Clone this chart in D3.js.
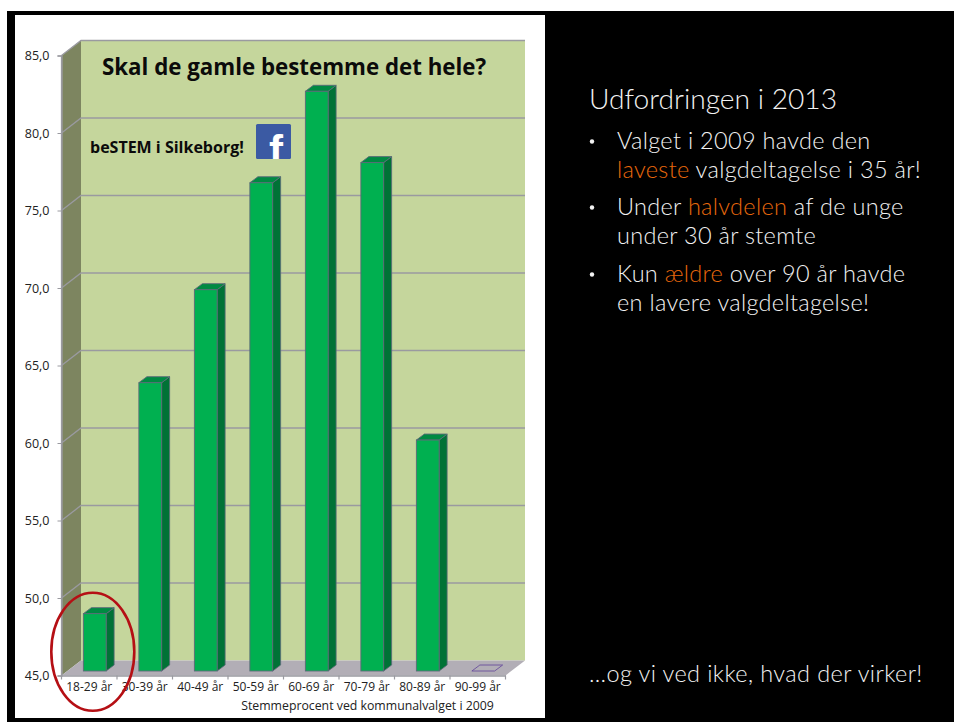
<!DOCTYPE html>
<html>
<head>
<meta charset="utf-8">
<script src="https://cdn.jsdelivr.net/npm/d3@7"></script>
<style>
  html, body { margin: 0; padding: 0; background: #fff; }
  svg { display: block; }
  .cap { font-family: "Open Sans", sans-serif; }
  .slide { font-family: Lato, sans-serif; font-weight: 300; }
</style>
</head>
<body>
<div id="chart"></div>
<script>
const ageGroups = ['18-29 år', '30-39 år', '40-49 år', '50-59 år', '60-69 år', '70-79 år', '80-89 år', '90-99 år'];
const turnout = [48.7, 63.6, 69.6, 76.5, 82.4, 77.8, 59.9, 45];
const yTicks = [45, 50, 55, 60, 65, 70, 75, 80, 85];
const chartTitle = 'Skal de gamle bestemme det hele?';
const chartSubtitle = 'beSTEM i Silkeborg!';
const axisTitle = 'Stemmeprocent ved kommunalvalget i 2009';
const slideHeading = 'Udfordringen i 2013';
const bulletLines = [
    [[['Valget i 2009 havde den', false]], [['laveste', true], [' valgdeltagelse i 35 år!', false]]],
    [[['Under ', false], ['halvdelen', true], [' af de unge', false]], [['under 30 år stemte', false]]],
    [[['Kun ', false], ['ældre', true], [' over 90 år havde', false]], [['en lavere valgdeltagelse!', false]]]
];
const slideFooter = '…og vi ved ikke, hvad der virker!';

const width = 954, height = 722;
const box = { left: 61.5, right: 505.5, top: 55.5, bottom: 675.5 };
const wall = { dx: 19.5, dy: -15 };   // depth of the 3d box
const bar = { dx: 8, dy: -6, lift: -4.5, shift: 5.5 };

const svg = d3.select('#chart').append('svg').attr('width', width).attr('height', height);

// slide background with the white chart panel on it
svg.append('rect').attr('x', 7).attr('y', 11).attr('width', width - 7).attr('height', height - 11).attr('fill', '#000');
svg.append('rect').attr('x', 15).attr('y', 15).attr('width', 530).attr('height', 703).attr('fill', '#fff');

const x = d3.scaleBand().domain(ageGroups).range([box.left, box.right]).paddingInner(0.59).paddingOuter(0.295);
const y = d3.scaleLinear().domain([45, 85]).range([box.bottom, box.top]);
const barX = group => x(group) + bar.shift;

const plot = svg.append('g');
const poly = pts => pts.map(p => p.join(',')).join(' ');
const edge = '#9a9aa0';

// back wall, side wall, floor
plot.append('polygon')
    .attr('points', poly([[box.left + wall.dx, y(85) + wall.dy], [box.right + wall.dx, y(85) + wall.dy], [box.right + wall.dx, y(45) + wall.dy], [box.left + wall.dx, y(45) + wall.dy]]))
    .attr('fill', '#c5d69c');
plot.append('polygon')
    .attr('points', poly([[box.left, y(85)], [box.left + wall.dx, y(85) + wall.dy], [box.left + wall.dx, y(45) + wall.dy], [box.left, y(45)]]))
    .attr('fill', '#7d8560');
plot.append('polygon')
    .attr('points', poly([[box.left, y(45)], [box.left + wall.dx, y(45) + wall.dy], [box.right + wall.dx, y(45) + wall.dy], [box.right, y(45)]]))
    .attr('fill', '#b2aeb6');

// gridlines run along the side wall and then the back wall
plot.selectAll('polyline.grid')
    .data(yTicks.filter(d => d > 45))
    .join('polyline')
    .attr('class', 'grid')
    .attr('points', d => poly([[box.left, y(d)], [box.left + wall.dx, y(d) + wall.dy], [box.right + wall.dx, y(d) + wall.dy]]))
    .attr('fill', 'none')
    .attr('stroke', edge)
    .attr('stroke-width', 1.3);
plot.append('line')
    .attr('x1', box.left).attr('x2', box.left)
    .attr('y1', y(85)).attr('y2', y(45))
    .attr('stroke', edge).attr('stroke-width', 1.3);

// bars, front face sits a bit behind the axis plane
const bars = plot.selectAll('g.bar')
    .data(ageGroups.map((group, i) => ({ group, value: turnout[i] })))
    .join('g')
    .attr('class', 'bar');

const barEdge = '#5b6a78';
bars.filter(d => d.value > 45).append('polygon')
    .attr('points', d => {
        const r = barX(d.group) + x.bandwidth();
        const t = y(d.value) + bar.lift, b = y(45) + bar.lift;
        return poly([[r, t], [r + bar.dx, t + bar.dy], [r + bar.dx, b + bar.dy], [r, b]]);
    })
    .attr('fill', '#007236').attr('stroke', barEdge).attr('stroke-width', 0.8);
bars.append('polygon')
    .attr('points', d => {
        const l = barX(d.group), r = l + x.bandwidth();
        const t = y(d.value) + bar.lift;
        return poly([[l, t], [l + bar.dx, t + bar.dy], [r + bar.dx, t + bar.dy], [r, t]]);
    })
    .attr('fill', d => d.value > 45 ? '#008a42' : 'none')
    .attr('stroke', d => d.value > 45 ? barEdge : '#6a4f9c')
    .attr('stroke-width', 0.9);
bars.filter(d => d.value > 45).append('rect')
    .attr('x', d => barX(d.group))
    .attr('y', d => y(d.value) + bar.lift)
    .attr('width', x.bandwidth())
    .attr('height', d => y(45) - y(d.value))
    .attr('fill', '#00b050').attr('stroke', barEdge).attr('stroke-width', 0.9);

// axes
const yAxis = svg.append('g')
    .attr('transform', 'translate(' + box.left + ',0)')
    .call(d3.axisLeft(y).tickValues(yTicks).tickSize(4).tickPadding(8).tickFormat(d => d3.format('.1f')(d).replace('.', ',')));
const xAxis = svg.append('g')
    .attr('transform', 'translate(0,' + box.bottom + ')')
    .call(d3.axisBottom(x).tickSize(0).tickPadding(7));
xAxis.selectAll('.tick')
    .append('line')
    .attr('x1', x.step() / 2).attr('x2', x.step() / 2)
    .attr('y1', 0).attr('y2', 4)
    .attr('stroke', edge).attr('stroke-width', 1.2);
xAxis.append('line')
    .attr('x1', box.left).attr('x2', box.left)
    .attr('y1', 0).attr('y2', 4)
    .attr('stroke', edge).attr('stroke-width', 1.2);
[yAxis, xAxis].forEach(axis => {
    axis.selectAll('.domain').attr('stroke', edge).attr('stroke-width', 1.3);
    axis.selectAll('.tick > line').attr('stroke', edge);
    axis.selectAll('text')
        .attr('class', 'cap')
        .attr('fill', '#222');
});
yAxis.selectAll('text').attr('font-size', 12.5);
xAxis.selectAll('text').attr('font-size', 12);

svg.append('text').attr('class', 'cap')
    .attr('x', 367.5).attr('y', 710)
    .attr('text-anchor', 'middle').attr('font-size', 12.3).attr('fill', '#222')
    .text(axisTitle);

svg.append('text').attr('class', 'cap')
    .attr('x', 102).attr('y', 75)
    .attr('font-size', 22.3).attr('font-weight', 700).attr('fill', '#0b0b0b')
    .text(chartTitle);
svg.append('text').attr('class', 'cap')
    .attr('x', 90).attr('y', 153)
    .attr('font-size', 16).attr('font-weight', 700).attr('fill', '#0b0b0b')
    .text(chartSubtitle);

// facebook badge
svg.append('rect')
    .attr('x', 256).attr('y', 124).attr('width', 35).attr('height', 35).attr('rx', 1.5)
    .attr('fill', '#3b5aa3');
svg.append('clipPath').attr('id', 'fb-clip').append('rect')
    .attr('x', 256).attr('y', 124).attr('width', 35).attr('height', 35);
svg.append('text')
    .attr('clip-path', 'url(#fb-clip)')
    .attr('x', 269).attr('y', 165)
    .attr('font-family', '"Liberation Sans", sans-serif')
    .attr('font-size', 42).attr('font-weight', 700).attr('fill', '#fff')
    .text('f');

// red ring round the youngest group
svg.append('ellipse')
    .attr('cx', 92.8).attr('cy', 651.7).attr('rx', 41.5).attr('ry', 59)
    .attr('fill', 'none').attr('stroke', '#b50f14').attr('stroke-width', 2.6);

// slide text
const slide = svg.append('g').attr('class', 'slide');
slide.append('text')
    .attr('x', 589).attr('y', 109)
    .attr('font-size', 28.2).attr('fill', '#f2f2f2')
    .text(slideHeading);

const lineY = [[148.5, 177.5], [214.5, 243.5], [281.5, 310.5]];
bulletLines.forEach((lines, i) => {
    slide.append('circle').attr('cx', 592).attr('cy', lineY[i][0] - 7).attr('r', 2.2).attr('fill', '#f2f2f2');
    lines.forEach((segments, j) => {
        slide.append('text')
            .attr('x', 617).attr('y', lineY[i][j])
            .attr('font-size', 23.5).attr('letter-spacing', 0.3)
            .selectAll('tspan')
            .data(segments)
            .join('tspan')
            .attr('fill', d => d[1] ? '#e8680c' : '#f2f2f2')
            .text(d => d[0]);
    });
});

slide.append('text')
    .attr('x', 589).attr('y', 682)
    .attr('font-size', 23.5).attr('letter-spacing', 0.4).attr('fill', '#f2f2f2')
    .text(slideFooter);
</script>
</body>
</html>
